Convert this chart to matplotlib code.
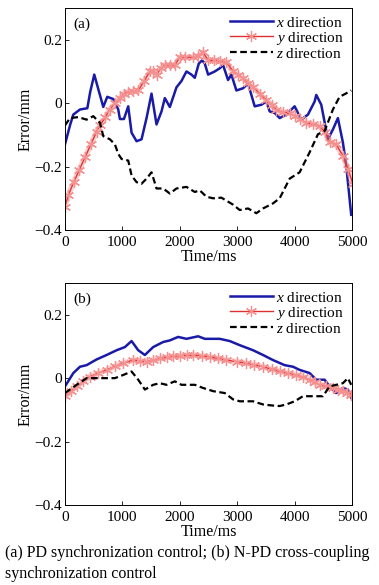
import matplotlib
matplotlib.use("Agg")
import matplotlib.pyplot as plt

plt.rcParams['font.family'] = ['Liberation Serif', 'DejaVu Serif']
plt.rcParams['mathtext.fontset'] = 'custom'
plt.rcParams['mathtext.it'] = 'Liberation Serif:italic'
plt.rcParams['mathtext.rm'] = 'Liberation Serif'

# ---- panel (a): PD synchronization control ----
a_x_t = [0, 87, 145, 261, 389, 440, 510, 667, 737, 841, 928, 957, 1027, 1102, 1160, 1247,
         1334, 1421, 1508, 1595, 1682, 1740, 1827, 1943, 2030, 2117, 2204, 2262, 2332, 2390,
         2436, 2494, 2610, 2697, 2755, 2842, 2900, 2987, 3103, 3190, 3306, 3422, 3509, 3567,
         3654, 3741, 3857, 4002, 4118, 4234, 4350, 4379, 4466, 4582, 4669, 4756, 4843, 4901, 4988]
a_x_v = [-0.13, -0.07, -0.036, -0.02, -0.016, 0.036, 0.09, -0.012, 0.02, 0.013, -0.02, -0.05,
         -0.05, -0.01, -0.093, -0.12, -0.114, -0.047, 0.03, -0.067, -0.026, 0.016, -0.012, 0.05,
         0.07, 0.10, 0.09, 0.08, 0.125, 0.135, 0.125, 0.09, 0.10, 0.11, 0.12, 0.073, 0.09, 0.04,
         0.047, 0.062, -0.01, -0.005, 0.005, -0.026, -0.031, -0.047, -0.036, -0.01, -0.052,
         -0.036, 0.005, 0.026, -0.005, -0.114, -0.083, -0.047, -0.124, -0.197, -0.352]

a_y_t = [0, 58, 150, 250, 350, 450, 550, 609, 700, 780, 870, 950, 1030, 1102, 1190, 1276, 1380,
         1479, 1540, 1595, 1670, 1740, 1830, 1914, 2000, 2100, 2233, 2320, 2407, 2494, 2600,
         2700, 2813, 2929, 3020, 3103, 3190, 3277, 3390, 3509, 3600, 3683, 3800, 3915, 4000,
         4089, 4205, 4320, 4437, 4530, 4611, 4727, 4843, 4930, 5017]
a_y_v = [-0.326, -0.29, -0.25, -0.21, -0.17, -0.13, -0.09, -0.07, -0.045, -0.02, 0.0, 0.015,
         0.03, 0.036, 0.038, 0.04, 0.07, 0.10, 0.10, 0.09, 0.11, 0.12, 0.12, 0.12, 0.145, 0.145,
         0.145, 0.15, 0.16, 0.135, 0.135, 0.132, 0.13, 0.10, 0.09, 0.078, 0.065, 0.052, 0.03,
         0.01, -0.005, -0.02, -0.028, -0.031, -0.04, -0.05, -0.062, -0.066, -0.073, -0.09,
         -0.124, -0.13, -0.166, -0.207, -0.254]

a_z_t = [0, 87, 232, 377, 493, 609, 667, 783, 870, 928, 986, 1102, 1160, 1247, 1334, 1421, 1508,
         1595, 1711, 1827, 1943, 2117, 2262, 2349, 2465, 2581, 2726, 2929, 3045, 3190, 3335,
         3451, 3625, 3741, 3915, 4089, 4263, 4408, 4524, 4669, 4785, 4901, 4988]
a_z_v = [-0.07, -0.047, -0.044, -0.052, -0.041, -0.062, -0.104, -0.114, -0.13, -0.16, -0.176,
         -0.181, -0.228, -0.249, -0.254, -0.238, -0.218, -0.269, -0.269, -0.285, -0.269, -0.264,
         -0.28, -0.275, -0.295, -0.30, -0.298, -0.32, -0.337, -0.332, -0.347, -0.332, -0.316,
         -0.30, -0.238, -0.218, -0.155, -0.098, -0.088, -0.02, 0.02, 0.031, 0.04]

# ---- panel (b): N-PD cross-coupling synchronization control ----
b_x_t = [0, 145, 261, 377, 551, 725, 899, 1044, 1160, 1276, 1392, 1537, 1711, 1827, 1972, 2117,
         2320, 2436, 2697, 2871, 3045, 3277, 3451, 3625, 3828, 3973, 4089, 4263, 4379, 4524,
         4611, 4727, 4843, 4930, 4988]
b_x_v = [-0.026, 0.016, 0.036, 0.041, 0.059, 0.073, 0.088, 0.098, 0.117, 0.088, 0.073, 0.098,
         0.114, 0.119, 0.130, 0.124, 0.132, 0.124, 0.124, 0.117, 0.104, 0.088, 0.073, 0.057,
         0.041, 0.036, 0.026, 0.016, -0.005, -0.005, -0.026, -0.047, -0.031, -0.036, -0.062]

b_y_t = [0, 100, 203, 320, 435, 580, 725, 870, 1015, 1189, 1300, 1421, 1540, 1653, 1770, 1885,
         2000, 2120, 2233, 2380, 2523, 2670, 2813, 2990, 3161, 3300, 3451, 3600, 3741, 3890,
         4031, 4150, 4263, 4350, 4437, 4550, 4669, 4760, 4843, 4920, 4988]
b_y_v = [-0.057, -0.042, -0.026, -0.01, 0.005, 0.016, 0.026, 0.037, 0.047, 0.057, 0.055, 0.052,
         0.057, 0.062, 0.066, 0.069, 0.071, 0.072, 0.073, 0.070, 0.067, 0.062, 0.057, 0.052,
         0.047, 0.042, 0.036, 0.028, 0.021, 0.015, 0.010, 0.003, -0.005, -0.012, -0.021,
         -0.026, -0.031, -0.036, -0.041, -0.046, -0.052]

b_z_t = [0, 203, 377, 609, 870, 1015, 1160, 1276, 1392, 1537, 1653, 1769, 1914, 2030, 2262, 2407,
         2581, 2784, 2929, 3045, 3277, 3451, 3596, 3741, 3857, 4002, 4147, 4321, 4495, 4611,
         4727, 4843, 4930, 4988]
b_z_v = [-0.047, -0.021, 0.0, 0.0, 0.0, 0.010, 0.021, -0.005, -0.036, -0.021, -0.016, -0.021,
         -0.010, -0.021, -0.021, -0.031, -0.041, -0.047, -0.067, -0.073, -0.073, -0.083, -0.086,
         -0.088, -0.083, -0.073, -0.057, -0.057, -0.057, -0.026, -0.021, -0.016, 0.0, -0.021]

panels = [
  ("(a)", a_x_t, a_x_v, a_y_t, a_y_v, a_z_t, a_z_v),
  ("(b)", b_x_t, b_x_v, b_y_t, b_y_v, b_z_t, b_z_v),
]
caption = "(a) PD synchronization control; (b) N-PD cross-coupling\nsynchronization control"

fig = plt.figure(figsize=(3.79, 5.85), dpi=100)
rects = [[0.1715, 0.6068, 0.757, 0.3795], [0.1715, 0.1368, 0.757, 0.3794]]

for rect, (tag, xt, xv, yt, yv, zt, zv) in zip(rects, panels):
  ax = fig.add_axes(rect)
  ax.plot(xt, xv, color="#1a1aa8", lw=1.8, label=r"$x$ direction")
  ax.plot(yt, yv, color="#f4a0a0", lw=4, alpha=0.5)
  ax.plot(yt, yv, color="#e03030", lw=1.0, marker=(6, 2, 0), ms=8,
          mec="#f49090", mew=0.9, label=r"$y$ direction")
  ax.plot(zt, zv, color="black", lw=1.6, ls=(0, (3, 1.6)), label=r"$z$ direction")

  ax.set_xlim(0, 5000)
  ax.set_ylim(-0.4, 0.3)
  ax.set_xticks([0, 1000, 2000, 3000, 4000, 5000])
  ax.set_yticks([-0.4, -0.2, 0, 0.2])
  ax.set_yticklabels(["\u22120.4", "\u22120.2", "0", "0.2"])
  ax.tick_params(direction="in", labelsize=11, length=3, width=0.6, pad=2)
  ax.tick_params(axis="x", pad=4)
  for s in ax.spines.values():
    s.set_linewidth(0.7)
  ax.set_xlabel("Time/ms", fontsize=11.5, labelpad=0)
  ax.set_ylabel("Error/mm", fontsize=11.5, labelpad=1)
  ax.text(0.03, 0.955, tag, transform=ax.transAxes, fontsize=11, va="top")
  ax.legend(loc="upper right", frameon=False, fontsize=11, handlelength=2.8,
            handletextpad=0.25, labelspacing=0.0, borderaxespad=0.1)

fig.text(0.014, 0.0368, caption, fontsize=11.5, va="center", linespacing=1.45)

plt.savefig("out.png", dpi=100)
